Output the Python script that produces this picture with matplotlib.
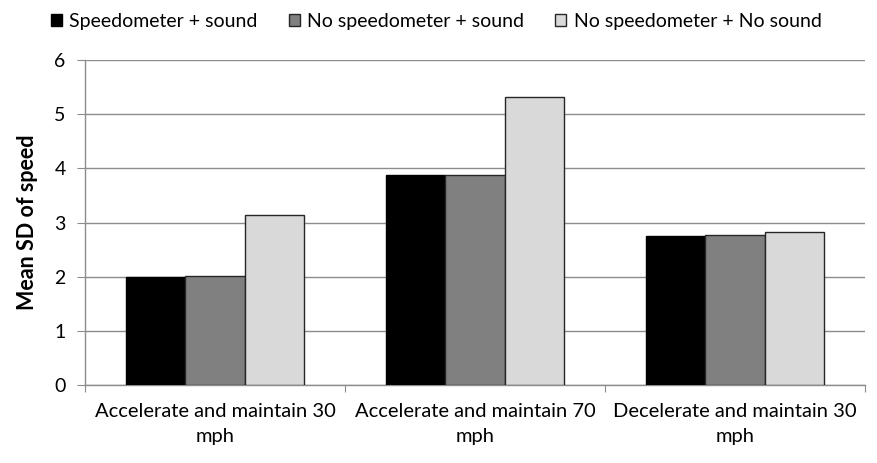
import numpy as np
import matplotlib
matplotlib.use("Agg")
import matplotlib.pyplot as plt

plt.rcParams['font.family'] = ['Lato', 'DejaVu Sans']

categories = ["Accelerate and maintain 30\nmph",
              "Accelerate and maintain 70\nmph",
              "Decelerate and maintain 30\nmph"]
series_names = ["Speedometer + sound", "No speedometer + sound",
                "No speedometer + No sound"]
speedo_sound = [2.00, 3.88, 2.75]
nospeedo_sound = [2.02, 3.87, 2.77]
nospeedo_nosound = [3.14, 5.32, 2.82]
yticks = [0, 1, 2, 3, 4, 5, 6]

fig = plt.figure(figsize=(8.78, 4.63), dpi=100)
ax = fig.add_axes([0.0968, 0.1685, 0.8882, 0.7015])

x = np.arange(len(categories))
w = 0.229
colors = ["#000000", "#808080", "#d9d9d9"]
edges = ["#000000", "#262626", "#262626"]
for i, (vals, name) in enumerate(zip([speedo_sound, nospeedo_sound, nospeedo_nosound], series_names)):
    ax.bar(x + (i - 1) * w, vals, w, color=colors[i], edgecolor=edges[i],
           linewidth=1.0, label=name, zorder=3)

ax.set_xlim(-0.5, 2.5)
ax.set_ylim(0, 6)
ax.set_yticks(yticks)
ax.grid(axis='y', color='#8c8c8c', linewidth=1.0, zorder=0)
ax.set_axisbelow(True)

ax.set_xticks([-0.5, 0.5, 1.5, 2.5])
ax.set_xticklabels([])
ax.set_xticks(x, minor=True)
ax.set_xticklabels(categories, minor=True, fontsize=14.5, linespacing=1.6)
ax.tick_params(axis='x', which='minor', length=0, pad=13)
ax.tick_params(axis='x', which='major', length=5, color='#8c8c8c', direction='out')
ax.tick_params(axis='y', length=6, color='#8c8c8c', labelsize=14, pad=8)

for s in ['top', 'right']:
    ax.spines[s].set_visible(False)
for s in ['left', 'bottom']:
    ax.spines[s].set_color('#8c8c8c')
    ax.spines[s].set_linewidth(1.0)

ax.set_ylabel("Mean SD of speed", fontsize=15.5, fontweight='bold', labelpad=12)

fig.legend(loc='upper left', bbox_to_anchor=(0.038, 1.01), ncol=3, frameon=False,
           fontsize=14, handlelength=0.55, handleheight=0.55, handletextpad=0.4,
           columnspacing=1.6)

fig.savefig("out.png", dpi=100)
